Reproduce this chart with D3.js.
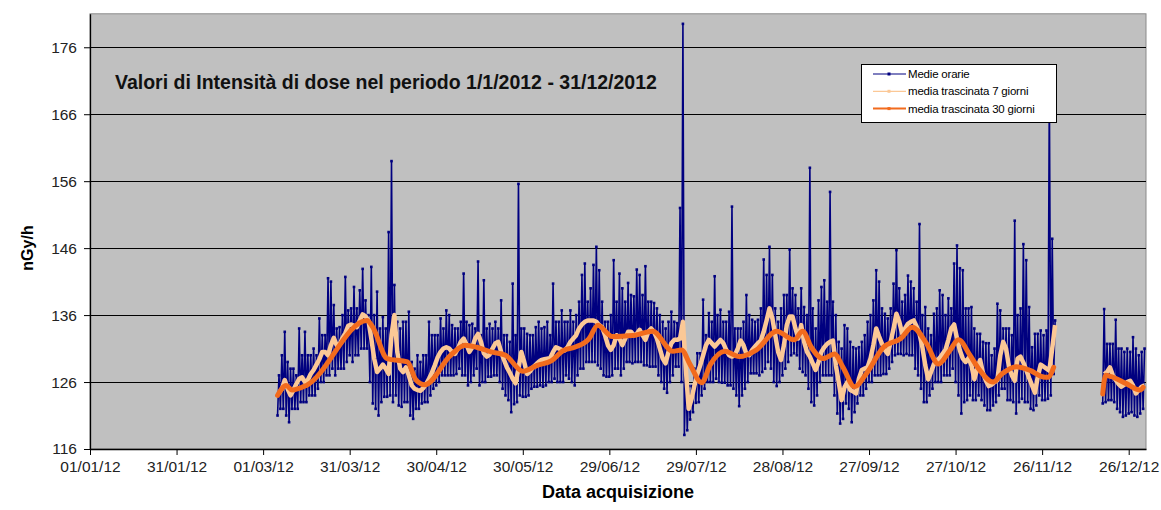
<!DOCTYPE html>
<html>
<head>
<meta charset="utf-8">
<script src="https://cdn.jsdelivr.net/npm/d3@7"></script>
<style>
  body { margin: 0; background: #fff; }
  svg { display: block; font-family: Arial, "Liberation Sans", sans-serif; }
</style>
</head>
<body>
<script>
var w = 1161,
  h = 510,
  plotLeft = 90,
  plotRight = 1146,
  plotTop = 13.8,
  plotBottom = 449;

// tick labels
var yTicks = [116, 126, 136, 146, 156, 166, 176];
var xTickLabels = ["01/01/12", "31/01/12", "01/03/12", "31/03/12", "30/04/12", "30/05/12", "29/06/12",
  "29/07/12", "28/08/12", "27/09/12", "27/10/12", "26/11/12", "26/12/12"];

// first period: 06/03/12 -> 30/11/12, one value per day
var inizioA = "06/03/12";
// hourly averages: lowest and highest value of each day (nGy/h)
var minimiA = [
  121, 122, 122, 121, 120, 122, 122, 122, 123, 123,
  123, 124, 124, 124, 125, 126, 126, 127, 127, 128,
  127, 128, 128, 128, 129, 130, 129, 130, 130, 131,
  131, 131, 126, 122.8, 122, 121, 123, 123.8, 123.8, 124,
  123, 124, 122.5, 122.3, 123, 123, 121, 120.5, 122, 122,
  122.8, 123, 123, 124, 125, 125.5, 126, 127, 127, 127,
  127, 127, 127.2, 128, 127, 127, 125.5, 126, 127, 128,
  125.5, 126, 126, 126.8, 126.8, 127, 127, 126, 125, 124,
  123.3, 121.5, 122.7, 123, 124, 123.8, 123.8, 124, 125, 125.3,
  125.3, 125.5, 125.3, 125.5, 126, 126, 126.5, 126, 126, 126,
  127, 126.5, 126, 125.5, 127, 128, 128, 129, 129, 129,
  129, 128.5, 128, 127, 126.8, 126.8, 127, 128, 128, 127,
  128, 129, 129, 128.8, 129, 129, 129, 128.5, 128.5, 128.3,
  128.3, 128.3, 127, 126, 125, 124.4, 126, 127, 128.3, 128.3,
  126, 118.1, 118.8, 120.4, 121.5, 122.9, 123, 124, 125, 126,
  126, 126, 126.5, 126, 125.9, 125.9, 125.5, 125.5, 125, 124,
  122.4, 124, 125, 126, 127.3, 127.3, 127.3, 127, 127.5, 128,
  129, 128, 126, 125.4, 126, 127, 128, 129, 130, 130.3,
  130, 128, 127.5, 127, 125, 123, 122.5, 124, 126, 127,
  127, 127, 127, 124, 121.3, 119.8, 120.5, 122.8, 122, 120,
  121.5, 122.8, 124, 124, 125, 126, 126, 127, 127, 127,
  127.2, 127.2, 128, 129, 130, 130.2, 130.2, 130, 130.2, 130,
  130, 128, 127, 125, 123, 123, 124, 125, 126, 126,
  126, 127, 127, 127, 128, 126, 124, 121.3, 123, 123.3,
  124, 123.3, 123.3, 124, 123.3, 122.5, 121.8, 121.8, 122.5, 123,
  124, 125, 125, 123.3, 123.3, 123, 121.3, 123, 123.5, 123,
  123, 122, 121.8, 122.5, 124, 123.3, 123.3, 123.5, 124, 127.2
];
var massimiA = [
  127, 130, 133.5, 129, 128, 128, 127, 134, 130, 133.5,
  130, 130, 131, 130, 135.5, 133, 133, 141.5, 141, 137.5,
  134, 134.2, 136, 141.7, 136.7, 137, 140.2, 137, 139.7, 142.9,
  138.2, 136, 143.2, 136, 139.5, 134, 135.7, 134, 148.4, 159,
  140.5, 135, 134, 135, 135, 136.5, 129, 128, 130, 129,
  130, 130, 135, 133, 133, 133, 135.5, 134, 136.7, 136,
  134.5, 134, 134, 135, 142.2, 135, 134.5, 134.7, 134, 144,
  133, 141.2, 134, 134.7, 134, 135, 134, 138.2, 133, 133,
  132, 140.7, 133, 155.6, 134, 134, 133.2, 133, 133, 134.2,
  135, 134, 134.2, 135, 133, 140.7, 135, 135, 136.7, 135,
  135, 136.7, 135, 136, 138, 142, 143.7, 138, 140, 143.5,
  146.2, 142.7, 138, 135, 135, 136, 144.2, 138, 142.2, 140,
  138, 140.8, 139, 138.8, 142.8, 142, 139, 143.3, 138, 138,
  137.8, 137, 136, 135, 134, 135, 136.5, 135, 134.8, 152,
  179.5, 128, 125.4, 125.4, 128, 130.3, 130.3, 138.3, 133, 136.3,
  135, 141.8, 136, 136.8, 135, 135, 136.5, 152.2, 134, 134,
  134, 135, 139, 136, 135.3, 135, 135.3, 137, 144.3, 142,
  146.2, 142, 137, 135, 137, 139, 139, 145.8, 140, 139,
  137, 140, 137.2, 136, 158, 137, 134, 138.2, 140.2, 141.2,
  138, 154.4, 138, 136, 132, 131, 134.5, 134, 132, 131.2,
  131, 131.2, 132, 133, 135, 136, 138.2, 142.7, 141, 137,
  136.2, 135.5, 137, 140.7, 145.7, 140, 138, 139, 141.9, 141,
  140, 138, 149.6, 136, 137.2, 134, 133, 136.2, 137, 139.7,
  139, 136, 138.5, 137, 143.7, 146.4, 143, 142.7, 137, 137,
  137.2, 134, 133.2, 133.2, 132, 131.8, 131.8, 130, 131, 137.7,
  136.7, 134, 134, 134, 133, 150.1, 136, 137, 146.6, 144.2,
  137.2, 131.2, 133.2, 133.2, 133.7, 133, 133.7, 170, 147.4, 135.2
];
// 7-day moving average, one value per day
var media7A = [
  124.3, 125, 126.3, 125, 124, 124.8, 125.7, 126.5, 126.7, 126,
  126.3, 127.2, 127.8, 128.6, 129.4, 130.5, 130.5, 130, 131.5, 132.6,
  131.5, 131.6, 132.6, 133.3, 134.4, 134.6, 134.4, 134.2, 135.2, 136.1,
  135.8, 135.2, 132.5, 129.5, 127.5, 128, 128.6, 128, 127.2, 133,
  136, 130.5, 128, 127.5, 128.2, 127, 125.5, 125, 124.8, 124.7,
  125.1, 125.7, 126.5, 127.4, 128.5, 129.7, 130.5, 131, 131.2, 131,
  130.5, 130.2, 131, 132, 132.5, 131.6, 130.5, 131.2, 132.5, 133.2,
  132, 130.3, 129.8, 130.1, 131, 131.8, 132, 130.5, 129.3, 128.2,
  127.4, 126.5, 125.8, 128, 130.5, 129, 127.2, 127.6, 128.2, 128.6,
  129, 129.3, 129.4, 129.5, 129.6, 130.5, 131.2, 131, 130.8, 130.7,
  131.2, 132, 132.5, 133, 134, 134.6, 135, 135.2, 135.2, 135.2,
  135, 134.5, 134.2, 133, 131.5, 130.8, 131.5, 133, 132.5, 131.5,
  132.5, 133.5, 133.5, 133, 133.2, 133.8, 133, 132.3, 133.5, 134,
  133.5, 132.5, 131, 129.5, 128.8, 130.5, 131.8, 132.3, 132.3, 132.5,
  135, 128, 122, 123.5, 125.5, 127.2, 128.5, 130, 131.5, 132.3,
  131.8, 131.3, 131.8, 132.3, 131.8, 130.8, 130, 129.8, 130, 131,
  132.2, 131.5, 130.2, 130, 130.8, 131.3, 131.8, 132.2, 133.5, 135.2,
  137, 135.5, 133, 130.5, 129.3, 131.5, 134.5, 135.8, 135.8, 134,
  132.5, 134.5, 132, 130.5, 129.8, 128.8, 127.8, 129, 130.5, 131.2,
  131.7, 132, 132.2, 128.5, 126, 123.3, 125.2, 126, 124.8, 124.6,
  124.3, 126.5, 127.8, 128, 128.2, 129.5, 131.5, 134, 132.8, 131.7,
  130.8, 130.2, 132, 134, 136.2, 135, 133.2, 134, 134.7, 135,
  135.2, 134.3, 133.2, 131.2, 128.5, 126.4, 127.5, 128.7, 129.2, 129.6,
  130.2, 130.8, 132.3, 134, 134.6, 132.5, 130.7, 129.5, 129, 129.6,
  128.5, 126.4, 128, 129.3, 127.4, 126.2, 125.4, 125.6, 126, 126.3,
  130, 132, 131, 128.3, 127, 126.2, 129.5, 129.8, 128.9, 127.8,
  126.6, 125.5, 124.4, 126.8, 128.6, 128.3, 128, 127.7, 131, 134.5
];

// second period: 17/12/12 -> 31/12/12
var inizioB = "17/12/12";
var minimiB = [122.8, 123, 123.3, 123.3, 123, 122, 121.5, 120.8, 121, 121.3, 121.5, 121, 120.8, 121.3, 122];
var massimiB = [136.9, 131.7, 131.7, 131.7, 135.3, 131, 131, 130.5, 131, 130.5, 132.7, 131, 130, 130.5, 131];
var media7B = [127.2, 127.5, 128.2, 127, 126.3, 125.7, 125.3, 125.6, 126, 126.2, 125.5, 124.3, 124.8, 125.3, 125.5];

// 30-day moving average (null = no data)
var giorni30 = ["06/03/12", "09/03/12", "11/03/12", "16/03/12", "06/04/12", "08/04/12", "13/04/12", "20/04/12",
  "23/04/12", "26/04/12", "05/05/12", "10/05/12", "14/05/12", "19/05/12", "24/05/12", "30/05/12", "04/06/12",
  "09/06/12", "13/06/12", "17/06/12", "22/06/12", "25/06/12", "30/06/12", "05/07/12", "08/07/12", "14/07/12",
  "21/07/12", "24/07/12", "27/07/12", "31/07/12", "03/08/12", "08/08/12", "13/08/12", "19/08/12", "26/08/12",
  "01/09/12", "04/09/12", "07/09/12", "11/09/12", "15/09/12", "18/09/12", "22/09/12", "26/09/12", "02/10/12",
  "08/10/12", "12/10/12", "17/10/12", "21/10/12", "25/10/12", "28/10/12", "01/11/12", "04/11/12", "09/11/12",
  "12/11/12", "17/11/12", "22/11/12", "26/11/12", "28/11/12", "30/11/12",
  "08/12/12",
  "17/12/12", "18/12/12", "20/12/12", "25/12/12", "30/12/12", "31/12/12"];
var media30 = [124.0, 125.5, 124.8, 125.5, 135.2, 134.2, 129.5, 129.0,
  126.3, 125.6, 130.0, 131.5, 131.2, 130.5, 130.0, 127.6, 128.5,
  129.2, 130.7, 131.2, 132.5, 134.5, 132.8, 132.9, 133.0, 133.6,
  130.6, 130.8, 128.6, 125.9, 128.6, 130.6, 129.8, 130.8, 133.6,
  132.3, 133.6, 131.2, 129.5, 130.2, 128.2, 125.3, 127.2, 131.2,
  132.5, 134.2, 131.7, 128.7, 130.7, 132.3, 130.0, 128.0, 126.0,
  127.2, 128.3, 127.7, 126.8, 126.7, 128.2,
  null,
  124.2, 127.0, 126.8, 125.8, 124.8, 125.2];

var seriesNames = ["Medie orarie", "media trascinata 7  giorni", "media trascinata 30 giorni"];
var seriesColors = ["#000080", "#fbc896", "#f26b1d"];

var parseDate = d3.timeParse("%d/%m/%y");

function orarie(inizio, minimi, massimi) {
  var start = parseDate(inizio);
  var pts = [];
  minimi.forEach(function (v, i) {
    var g = d3.timeDay.offset(start, i);
    pts.push({ t: g, v: v });
    pts.push({ t: d3.timeHour.offset(g, 12), v: massimi[i] });
  });
  return pts;
}
function giornaliere(inizio, valori) {
  var start = parseDate(inizio);
  return valori.map(function (v, i) {
    return { t: d3.timeHour.offset(d3.timeDay.offset(start, i), 12), v: v };
  });
}

var orarieA = orarie(inizioA, minimiA, massimiA),
  orarieB = orarie(inizioB, minimiB, massimiB),
  sette = [giornaliere(inizioA, media7A), giornaliere(inizioB, media7B)],
  trenta = giorni30.map(function (g, i) { return { t: parseDate(g), v: media30[i] }; });

var svg = d3.select("body")
  .append("svg")
  .attr("width", w)
  .attr("height", h);

var xScale = d3.scaleTime()
  .domain([parseDate("01/01/12"), parseDate("01/01/13")])
  .range([plotLeft, plotRight]);
var yScale = d3.scaleLinear()
  .domain([116, 181])
  .range([plotBottom, plotTop]);

// plot area
svg.append("rect")
  .attr("x", plotLeft)
  .attr("y", plotTop)
  .attr("width", plotRight - plotLeft)
  .attr("height", plotBottom - plotTop)
  .attr("fill", "#c0c0c0")
  .attr("stroke", "#8a8a8a")
  .attr("stroke-width", 1);

// gridlines
svg.append("g")
  .selectAll("line")
  .data(yTicks.slice(1))
  .enter()
  .append("line")
  .attr("x1", plotLeft)
  .attr("x2", plotRight)
  .attr("y1", d => Math.round(yScale(d)) + 0.5)
  .attr("y2", d => Math.round(yScale(d)) + 0.5)
  .attr("stroke", "#000")
  .attr("stroke-width", 1);

// title inside the plot
svg.append("text")
  .attr("x", 115)
  .attr("y", 89)
  .style("font-size", "19.5px")
  .style("font-weight", "bold")
  .attr("fill", "#111")
  .text("Valori di Intensità di dose nel periodo 1/1/2012 - 31/12/2012");

var line = d3.line()
  .defined(d => d.v !== null)
  .x(d => xScale(d.t))
  .y(d => yScale(d.v));

// hourly averages
[orarieA, orarieB].forEach(function (pts) {
  svg.append("path")
    .datum(pts)
    .attr("fill", "none")
    .attr("stroke", seriesColors[0])
    .attr("stroke-width", 1.6)
    .attr("d", line);
  svg.append("g")
    .selectAll("rect")
    .data(pts)
    .enter()
    .append("rect")
    .attr("x", d => xScale(d.t) - 1.3)
    .attr("y", d => yScale(d.v) - 1.3)
    .attr("width", 2.6)
    .attr("height", 2.6)
    .attr("fill", seriesColors[0]);
});

// 7 days
sette.forEach(function (pts) {
  svg.append("path")
    .datum(pts)
    .attr("fill", "none")
    .attr("stroke", seriesColors[1])
    .attr("stroke-width", 4.5)
    .attr("stroke-linejoin", "round")
    .attr("d", line);
});

// 30 days
svg.append("path")
  .datum(trenta)
  .attr("fill", "none")
  .attr("stroke", seriesColors[2])
  .attr("stroke-width", 5)
  .attr("stroke-linejoin", "round")
  .attr("stroke-linecap", "round")
  .attr("d", line.curve(d3.curveMonotoneX));

// axes
var yAxis = d3.axisLeft(yScale).tickValues(yTicks).tickSize(6).tickPadding(7).tickSizeOuter(0);
var gy = svg.append("g")
  .attr("transform", `translate(${plotLeft}, 0)`)
  .call(yAxis);

var xAxis = d3.axisBottom(xScale)
  .tickValues(xTickLabels.map(parseDate))
  .tickFormat(d3.timeFormat("%d/%m/%y"))
  .tickSize(6)
  .tickPadding(6)
  .tickSizeOuter(0);
var gx = svg.append("g")
  .attr("transform", `translate(0, ${plotBottom})`)
  .call(xAxis);

[gx, gy].forEach(function (g) {
  g.select(".domain").attr("stroke", "#000").attr("stroke-width", 1.3);
  g.selectAll(".tick line").attr("stroke", "#000");
  g.selectAll(".tick text")
    .attr("fill", "#222")
    .style("font-size", "15.5px")
    .style("font-family", "Arial, 'Liberation Sans', sans-serif");
});

// axis titles
svg.append("text")
  .attr("transform", "translate(33, 248) rotate(-90)")
  .attr("text-anchor", "middle")
  .style("font-size", "16px")
  .style("font-weight", "bold")
  .text("nGy/h");

svg.append("text")
  .attr("x", 618)
  .attr("y", 498)
  .attr("text-anchor", "middle")
  .style("font-size", "18px")
  .style("font-weight", "bold")
  .text("Data acquisizione");

// legend
var legend = svg.append("g").attr("transform", "translate(861, 64)");
legend.append("rect")
  .attr("x", 0.5)
  .attr("y", 0.5)
  .attr("width", 195)
  .attr("height", 58)
  .attr("fill", "#fff")
  .attr("stroke", "#000");

var items = legend.selectAll(".item")
  .data(seriesNames)
  .enter()
  .append("g")
  .attr("class", "item")
  .attr("transform", (d, i) => `translate(0, ${10 + i * 17.3})`);

items.append("line")
  .attr("x1", 12)
  .attr("x2", 45)
  .attr("stroke", (d, i) => seriesColors[i])
  .attr("stroke-width", (d, i) => i === 2 ? 2 : 1.2);
items.append("rect")
  .attr("x", 26.5)
  .attr("y", -1.5)
  .attr("width", 3)
  .attr("height", 3)
  .attr("fill", (d, i) => seriesColors[i]);
items.append("text")
  .attr("x", 47)
  .attr("dy", "0.35em")
  .style("font-size", "11.5px")
  .style("letter-spacing", "-0.2px")
  .text(d => d);
</script>
</body>
</html>
